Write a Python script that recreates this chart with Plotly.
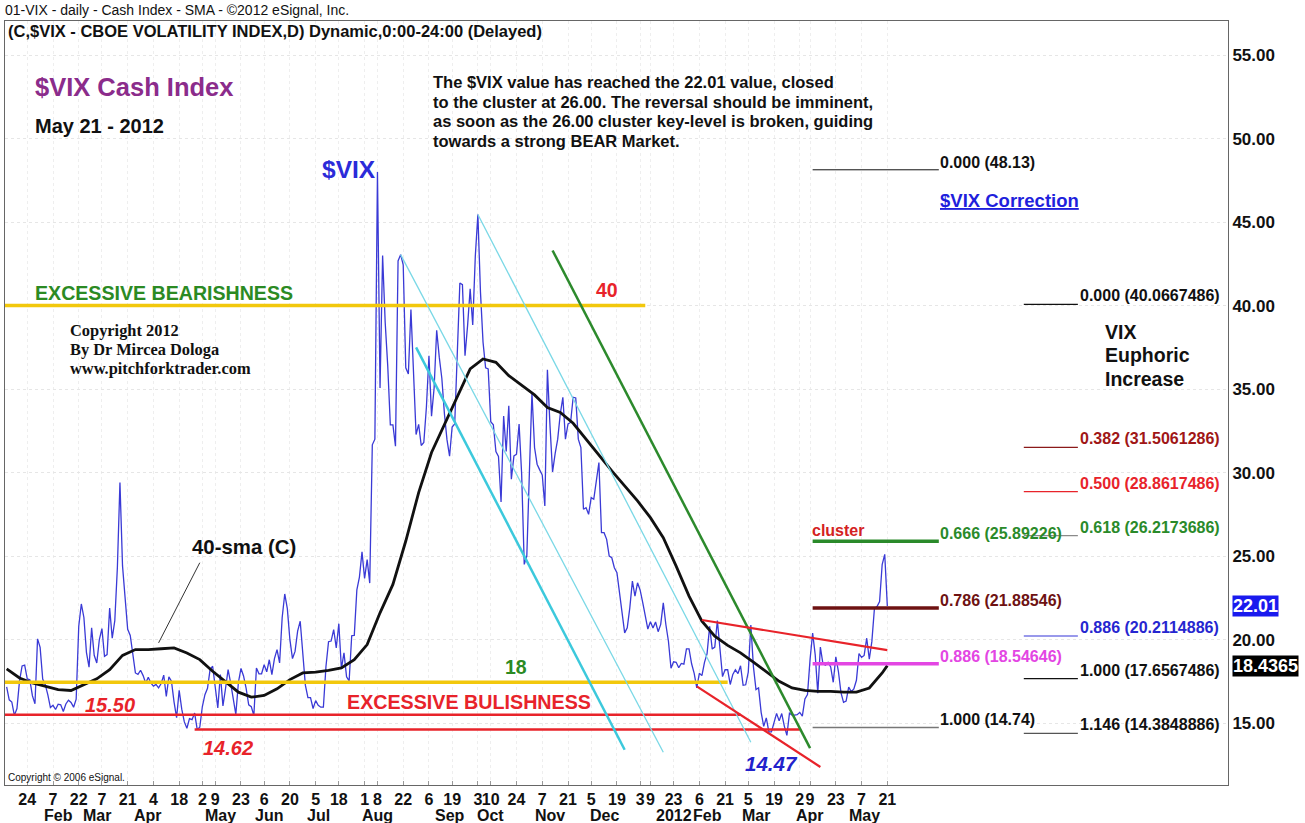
import pandas as pd
import plotly.graph_objects as go

# ---------------- calendar (trading days) ----------------
FIRST_DAY = "2011-01-11"
HOLIDAYS = ["2011-01-17", "2011-02-21", "2011-04-22", "2011-05-30", "2011-07-04",
            "2011-09-05", "2011-11-24", "2011-12-26", "2012-01-02", "2012-01-16",
            "2012-02-20", "2012-04-06", "2012-05-28", "2012-07-04", "2012-09-03",
            "2012-11-22", "2012-12-25"]

# ---------------- $VIX daily closes ----------------
vix_2011_01 = [17.17, 16.39, 16.26, 15.46, 15.87, 17.52, 18.42, 18.47, 17.65, 17.59, 16.64, 16.15, 20.04, 19.53]
vix_2011_02 = [17.63, 17.30, 16.69, 15.93, 16.06, 15.81, 16.13, 16.09, 15.69, 16.14, 16.37, 16.23, 15.95, 16.43,
               20.80, 22.13, 21.32, 19.22, 18.35]
vix_2011_03 = [20.70, 19.06, 18.60, 20.0, 20.66, 19.0, 19.1, 21.88, 20.08, 21.13, 24.32, 29.40, 24.41, 22.5,
               20.61, 20.25, 19.17, 18.0, 17.91, 18.16, 17.84, 17.39, 17.74]
vix_2011_04 = [17.40, 17.21, 17.31, 17.11, 17.37, 17.87, 16.59, 17.76, 17.51, 16.27, 15.32, 16.96, 15.83, 15.07,
               14.69, 15.27, 15.2, 15.6, 14.62, 14.75]
vix_2011_05 = [15.99, 16.70, 17.08, 18.20, 18.40, 17.16, 15.91, 17.9, 16.03, 17.07, 18.2, 17.39, 16.5, 15.52,
               17.43, 18.27, 17.82, 17.07, 16.09, 15.98, 15.45]
vix_2011_06 = [18.30, 17.95, 17.95, 18.49, 18.07, 18.79, 17.90, 18.86, 19.4, 18.6, 21.32, 22.73, 21.85, 19.99,
               18.86, 19.29, 20.5, 21.10, 19.34, 17.27, 16.52, 16.52]
vix_2011_07 = [15.87, 16.34, 16.06, 15.95, 15.95, 18.39, 19.87, 19.91, 20.6, 19.5, 20.95, 18.24, 19.21, 17.77,
               17.52, 20.23, 20.25, 22.98, 23.74, 25.25]
vix_2011_08 = [23.66, 24.79, 23.38, 31.66, 32.00, 48.00, 35.06, 42.99, 39.00, 36.36, 32.85, 32.85, 31.58, 42.67,
               43.05, 42.44, 36.27, 35.90, 39.76, 35.59, 32.28, 32.89, 31.62]
vix_2011_09 = [31.8, 33.9, 37.0, 33.38, 35.06, 38.52, 36.91, 35.65, 33.53, 31.97, 30.98, 32.73, 32.91, 37.32,
               41.35, 41.25, 37.0, 38.8, 41.0, 38.84, 42.96]
vix_2011_10 = [45.45, 40.82, 37.81, 36.27, 36.20, 33.04, 32.86, 31.26, 30.97, 28.24, 33.39, 31.26, 34.0, 29.6,
               31.0, 31.1, 32.9, 29.9, 24.5, 25.0, 30.0]
vix_2011_11 = [34.77, 31.50, 30.50, 30.16, 29.85, 28.0, 36.16, 32.81, 30.04, 31.13, 32.0, 33.51, 34.51, 32.0,
               32.91, 33.0, 34.51, 34.47, 32.0, 31.5, 27.80]
vix_2011_12 = [27.9, 27.5, 28.5, 28.4, 29.5, 30.6, 26.4, 26.4, 26.0, 25.0, 24.9, 24.3, 24.0, 22.7, 21.4, 20.4,
               20.7, 21.9, 23.5, 22.6, 23.4]
vix_2012_01 = [22.97, 22.22, 21.48, 20.63, 21.07, 20.69, 21.05, 20.47, 20.91, 22.2, 20.9, 19.9, 18.28, 18.67,
               18.64, 18.31, 18.57, 18.53, 19.44, 19.44]
vix_2012_02 = [18.55, 17.98, 17.10, 17.98, 17.84, 18.63, 19.15, 20.79, 19.43, 19.55, 21.14, 19.51, 17.78, 18.19,
               18.19, 17.31, 17.91, 18.19, 17.96, 18.43]
vix_2012_03 = [17.26, 17.29, 18.05, 20.87, 18.38, 17.0, 17.11, 15.64, 14.80, 15.31, 14.47, 14.47, 15.04, 15.58,
               15.13, 15.57, 14.82, 14.26, 15.59, 15.48, 15.47, 15.50]
vix_2012_04 = [15.64, 15.42, 16.44, 16.70, 18.81, 20.39, 19.08, 16.78, 19.55, 18.55, 18.46, 18.64, 18.36, 17.44,
               18.97, 18.10, 16.82, 16.24, 16.32, 17.15]
vix_2012_05 = [16.88, 17.04, 17.56, 19.16, 18.94, 19.05, 20.08, 18.83, 19.89, 21.87, 21.97, 22.27, 24.49, 25.10,
               22.01]

# 40-day SMA of the close, read every 5th trading day (plus the last day)
sma40_every5 = [18.25, 17.7, 17.4, 17.2, 17.0, 16.95, 17.3, 17.65, 18.2, 19.05, 19.4, 19.4, 19.45, 19.5, 19.2,
                18.8, 18.1, 17.45, 16.85, 16.55, 16.65, 17.05, 17.6, 18.0, 18.05, 18.15, 18.3, 18.8, 19.7, 21.6,
                23.3, 25.9, 28.8, 31.2, 32.9, 34.6, 36.2, 36.8, 36.6, 35.8, 35.25, 34.65, 33.9, 33.6, 32.95,
                32.0, 31.0, 30.1, 29.2, 28.3, 27.3, 26.1, 24.4, 22.6, 21.1, 20.2, 19.65, 19.2, 18.65, 18.05,
                17.5, 17.1, 16.95, 16.9, 16.9, 16.85, 16.85, 17.1, 18.0, 18.44]

# axis labels
tick_dates = ["2011-01-24", "2011-02-07", "2011-02-22", "2011-03-07", "2011-03-21", "2011-04-04", "2011-04-18",
              "2011-05-02", "2011-05-09", "2011-05-23", "2011-06-06", "2011-06-20", "2011-07-05", "2011-07-18",
              "2011-08-01", "2011-08-08", "2011-08-22", "2011-09-06", "2011-09-19", "2011-10-03", "2011-10-10",
              "2011-10-24", "2011-11-07", "2011-11-21", "2011-12-05", "2011-12-19", "2012-01-03", "2012-01-09",
              "2012-01-23", "2012-02-06", "2012-02-21", "2012-03-05", "2012-03-19", "2012-04-02", "2012-04-09",
              "2012-04-23", "2012-05-07", "2012-05-21"]
month_names = ["Feb", "Mar", "Apr", "May", "Jun", "Jul", "Aug", "Sep", "Oct", "Nov", "Dec", "2012",
               "Feb", "Mar", "Apr", "May"]
month_label_dates = ["2011-02-09", "2011-03-03", "2011-03-31", "2011-05-11", "2011-06-08", "2011-07-06",
                     "2011-08-08", "2011-09-16", "2011-10-10", "2011-11-10", "2011-12-12", "2012-01-23",
                     "2012-02-09", "2012-03-08", "2012-04-09", "2012-05-08"]
y_ticks = [15, 20, 25, 30, 35, 40, 45, 50, 55]

# Fibonacci levels
fib_left_ratio = ["0.000", "0.666", "0.786", "0.886", "1.000"]
fib_left_value = [48.13, 25.89226, 21.88546, 18.54646, 14.74]
fib_right_ratio = ["0.000", "0.382", "0.500", "0.618", "0.886", "1.000", "1.146"]
fib_right_value = [40.0667486, 31.5061286, 28.8617486, 26.2173686, 20.2114886, 17.6567486, 14.3848886]
last_close = 22.01
last_sma = 18.4365

# drawing-tool levels (price)
bear_level = 40.0
bull_level = 17.45
low_1 = 15.50
low_2 = 14.62

# ---------------- derived ----------------
cal = pd.bdate_range(FIRST_DAY, "2012-12-31", freq="C", holidays=HOLIDAYS)


def pos(d):
    return int(cal.get_loc(pd.Timestamp(d)))


vix = (vix_2011_01 + vix_2011_02 + vix_2011_03 + vix_2011_04 + vix_2011_05 + vix_2011_06 + vix_2011_07 +
       vix_2011_08 + vix_2011_09 + vix_2011_10 + vix_2011_11 + vix_2011_12 + vix_2012_01 + vix_2012_02 +
       vix_2012_03 + vix_2012_04 + vix_2012_05)
vix_x = list(range(len(vix)))
sma_x = list(range(0, len(vix), 5)) + [len(vix) - 1]

XMIN, XMAX = -0.64, 474.3
YMIN, YMAX = 11.29, 57.04
L, R, T, B = 5, 77, 21, 38
W, H = 1305, 823
PW, PH = W - L - R, H - T - B

FONT = "Liberation Sans, Arial, sans-serif"
BLUE = "#3a3ad6"


def px(xp):
    return (xp - L) / PW


def py(yp):
    return (H - B - yp) / PH


fig = go.Figure()


def seg(x0, y0, x1, y1, color, width, dash="solid"):
    fig.add_shape(type="line", xref="x", yref="y", x0=x0, y0=y0, x1=x1, y1=y1,
                  line=dict(color=color, width=width, dash=dash), layer="above")


YEL = "#f2c80c"
RED = "#e8232a"
seg(XMIN, bear_level, pos("2012-01-05"), bear_level, YEL, 3.5)
seg(XMIN, bull_level, pos("2012-02-22"), bull_level, YEL, 3.5)
seg(XMIN, low_1, pos("2012-02-29"), low_1, RED, 2.5)
seg(pos("2011-04-27"), low_2, pos("2012-04-02"), low_2, RED, 2.5)

seg(pos("2011-08-29"), 37.5, pos("2011-12-22"), 13.4, "#3cc9dc", 2.5)
seg(pos("2011-08-19"), 43.05, pos("2012-01-17"), 13.25, "#7ad8e6", 1.3)
seg(pos("2011-10-03"), 45.45, pos("2012-03-06"), 13.85, "#7ad8e6", 1.3)
seg(pos("2011-11-11"), 43.3, pos("2012-04-09"), 13.5, "#2c8a2c", 2.5)

seg(pos("2012-02-07"), 21.17, pos("2012-05-21"), 19.37, RED, 2.2)
seg(pos("2012-02-03"), 17.2, pos("2012-04-13"), 12.37, RED, 2.2)

seg(pos("2011-04-29"), 24.6, pos("2011-04-06"), 19.8, "#333333", 1)

left_colors = ["#111111", "#2a8a2a", "#6e1212", "#e346e3", "#777777"]
left_widths = [1, 3.5, 3.5, 3.5, 1.5]
left_text_colors = ["#111111", "#2a8a2a", "#6e1212", "#e346e3", "#111111"]
for r, v, c, w, tc in zip(fib_left_ratio, fib_left_value, left_colors, left_widths, left_text_colors):
    seg(pos("2012-04-10"), v, pos("2012-06-19"), v, c, w)
    fig.add_annotation(x=pos("2012-06-19"), y=v, xref="x", yref="y", text=f"<b>{r} ({v})</b>",
                       showarrow=False, xanchor="left", yanchor="bottom", xshift=-1, yshift=-3,
                       font=dict(family=FONT, size=16, color=tc))

right_colors = ["#111111", "#8b1a1a", "#e8232a", "#8a8a8a", "#3434d8", "#111111", "#555555"]
right_text_colors = ["#111111", "#a01616", "#e8232a", "#2a8a2a", "#2626d0", "#111111", "#111111"]
for r, v, c, tc in zip(fib_right_ratio, fib_right_value, right_colors, right_text_colors):
    seg(pos("2012-08-06"), v, pos("2012-09-05"), v, c, 1.2)
    fig.add_annotation(x=pos("2012-09-05"), y=v, xref="x", yref="y", text=f"<b>{r} ({v})</b>",
                       showarrow=False, xanchor="left", yanchor="bottom", xshift=0, yshift=-2,
                       font=dict(family=FONT, size=16, color=tc))

# ----- data traces -----
fig.add_trace(go.Scatter(x=vix_x, y=vix, mode="lines", line=dict(color=BLUE, width=1.3),
                         hoverinfo="skip", showlegend=False))
fig.add_trace(go.Scatter(x=sma_x, y=sma40_every5, mode="lines", line=dict(color="#111111", width=2.8),
                         hoverinfo="skip", showlegend=False))


def txt(text, xp, yp, size, color="#111111", family=FONT, bold=True, italic=False):
    t = text
    if italic:
        t = f"<i>{t}</i>"
    if bold:
        t = f"<b>{t}</b>"
    fig.add_annotation(x=px(xp), y=py(yp), xref="paper", yref="paper", text=t, showarrow=False,
                       xanchor="left", yanchor="middle", font=dict(family=family, size=size, color=color),
                       borderpad=0)


txt("01-VIX - daily - Cash Index - SMA - ©2012 eSignal, Inc.", 4, 10, 14, bold=False)
txt("(C,$VIX - CBOE VOLATILITY INDEX,D) Dynamic,0:00-24:00 (Delayed)", 7, 31, 16.5)
txt("$VIX Cash Index", 34, 87, 25.5, color="#8b2c8b")
txt("May 21 - 2012", 34, 126, 20)
para = ["The $VIX value has reached the 22.01 value, closed",
        "to the cluster at 26.00. The reversal should be imminent,",
        "as soon as the 26.00 cluster key-level is broken, guiding",
        "towards a strong BEAR Market."]
for i, line in enumerate(para):
    txt(line, 432, 82 + i * 19.7, 16.5)
txt("$VIX", 321, 170, 24.5, color="#2b2bd9")
txt("<u>$VIX Correction</u>", 939, 200, 18.5, color="#1f1fdc")
txt("EXCESSIVE BEARISHNESS", 34, 293, 19.6, color="#2b8a23")
txt("40", 595, 290, 19.5, color=RED)
for i, line in enumerate(["Copyright 2012", "By Dr Mircea Dologa", "www.pitchforktrader.com"]):
    txt(line, 69, 330 + i * 19, 16.4, family="Liberation Serif, Times New Roman, serif")
for i, line in enumerate(["VIX", "Euphoric", "Increase"]):
    txt(line, 1104, 332 + i * 23.5, 19.5)
txt("40-sma (C)", 191, 547, 20.4)
txt("18", 504, 667, 19.5, color="#2b8a23")
txt("15.50", 84, 705, 20, color=RED, italic=True)
txt("EXCESSIVE BULISHNESS", 346, 702, 19.7, color=RED)
txt("14.62", 202, 748, 20, color=RED, italic=True)
txt("14.47", 744, 763, 20.5, color="#2222cc", italic=True)
txt("cluster", 811, 530, 16, color="#d42222")
txt("Copyright © 2006 eSignal.", 7, 777, 10, bold=False)

for name, d in zip(month_names, month_label_dates):
    fig.add_annotation(x=pos(d), y=py(815), xref="x", yref="paper", text=f"<b>{name}</b>", showarrow=False,
                       xanchor="center", yanchor="middle", font=dict(family=FONT, size=16, color="#111111"))

fig.add_annotation(x=1, y=last_close, xref="paper", yref="y", text=f"<b>{last_close:.2f}</b>", showarrow=False,
                   xanchor="left", yanchor="middle", xshift=4, bgcolor="#1a1aee", borderpad=0,
                   font=dict(family=FONT, size=18, color="white"))
fig.add_annotation(x=1, y=last_sma, xref="paper", yref="y", text=f"<b>{last_sma}</b>", showarrow=False,
                   xanchor="left", yanchor="middle", xshift=4, bgcolor="#000000", borderpad=0,
                   font=dict(family=FONT, size=18, color="white"))

fig.update_layout(
    width=W, height=H, margin=dict(l=L, r=R, t=T, b=B, pad=0),
    paper_bgcolor="white", plot_bgcolor="white", showlegend=False,
    xaxis=dict(range=[XMIN, XMAX], tickvals=[pos(d) for d in tick_dates],
               ticktext=[f"<b>{pd.Timestamp(d).day}</b>" for d in tick_dates],
               tickangle=0, tickfont=dict(family=FONT, size=16, color="#111111"),
               ticks="inside", ticklen=4, tickcolor="#999999",
               showgrid=True, gridcolor="#eeeeee", griddash="dot", zeroline=False,
               showline=True, mirror=True, linecolor="#666666", linewidth=1, fixedrange=True),
    yaxis=dict(range=[YMIN, YMAX], side="right", tickvals=y_ticks,
               ticktext=[f"<b>{v:.2f}</b>" for v in y_ticks],
               tickfont=dict(family=FONT, size=17, color="#111111"), ticks="",
               showgrid=True, gridcolor="#e6e6e6", griddash="dot", zeroline=False,
               showline=True, mirror=True, linecolor="#666666", linewidth=1, fixedrange=True),
)

fig.write_html("out.html", config={"displayModeBar": False},
               post_script="document.body.style.margin='0px';")
